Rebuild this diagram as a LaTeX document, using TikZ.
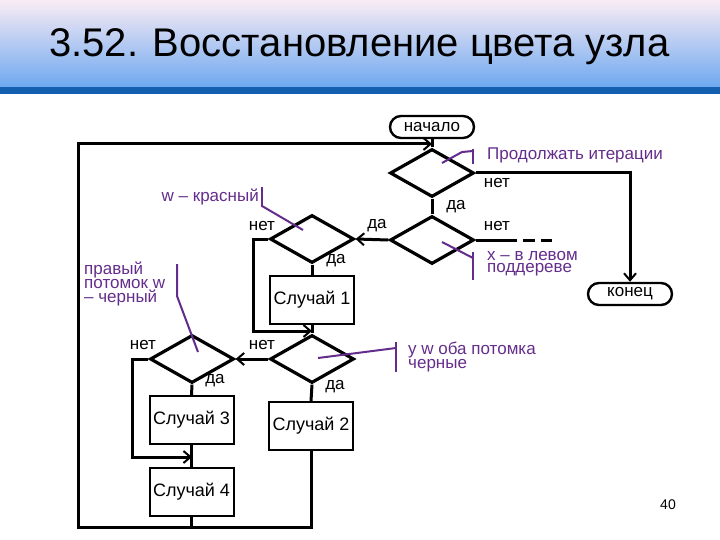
\documentclass[tikz,border=0pt]{standalone}
\usepackage{fontspec}
\setmainfont{Liberation Sans}
\usetikzlibrary{shapes.geometric,shapes.misc,arrows.meta}
\definecolor{ann}{RGB}{100,45,140}
\definecolor{hdtop}{RGB}{250,236,244}
\definecolor{hdbot}{RGB}{110,168,240}
\definecolor{band}{RGB}{20,95,175}
\begin{document}
\begin{tikzpicture}[x=1pt,y=-1pt,
  dec/.style={diamond,draw,line width=3.2pt,minimum width=84pt,minimum height=48pt,inner sep=0pt},
  blk/.style={rectangle,draw,line width=2pt,minimum width=84pt,minimum height=48pt,inner sep=0pt,font=\fontsize{18}{18}\selectfont},
  term/.style={rounded rectangle,draw,line width=2.4pt,minimum width=84pt,minimum height=22pt,inner sep=0pt,font=\fontsize{17}{17}\selectfont},
  flow/.style={line width=3pt},
  arr/.style={flow,-{Straight Barb[length=7pt,width=12pt,line width=2pt]}},
  lab/.style={font=\fontsize{17}{17}\selectfont,inner sep=0pt},
  note/.style={font=\fontsize{17}{12.5}\selectfont,inner sep=0pt,text=ann,align=left,anchor=north west},
  nl/.style={draw=ann,line width=2pt}]
\useasboundingbox (0,0) rectangle (720,540);
\shade[top color=hdtop,bottom color=hdbot] (0,0) rectangle (720,87);
\fill[band] (0,87) rectangle (720,94);
\node[font=\fontsize{40}{40}\selectfont,anchor=west,inner sep=0pt] (title) at (49,47) {3.52. Восстановление цвета узла};
\node[font=\fontsize{14}{14}\selectfont,inner sep=0pt] (pg) at (668,505) {40};

\node[term] (start) at (432,127) {начало};
\node[term] (end) at (630,294) {конец};
\node[dec] (d1) at (432,173) {};
\node[dec] (d2) at (432,240) {};
\node[dec] (d3) at (312,239) {};
\node[dec] (d4) at (312,359) {};
\node[dec] (d5) at (192,359) {};
\node[blk] (c1) at (312,299.5) {Случай 1};
\node[blk] (c2) at (311,426) {Случай 2};
\node[blk] (c3) at (191.5,420) {Случай 3};
\node[blk] (c4) at (191.5,492) {Случай 4};

\coordinate (lbl) at (78,527);
\coordinate (ltl) at (78,144);
\coordinate (lend) at (432,144);
\coordinate (k3) at (253,239);
\coordinate (k3e) at (312,331);
\coordinate (k5) at (132,359);
\coordinate (k5e) at (192,457);
\coordinate (dsh) at (505,240);
\coordinate (dshe) at (552,240);

\draw[flow] (start.south) -- (d1.north);
\draw[arr] (d1.east) -| (end.north);
\draw[flow] (d1.south) -- (d2.north);
\draw[arr] (d2.west) -- (d3.east);
\draw[flow] (d2.east) -- (dsh);
\draw[flow,dash pattern=on 12pt off 6pt] (dsh) -- (dshe);
\draw[flow] (d3.south) -- (c1.north);
\draw[arr] (d3.west) -- (k3) |- (k3e);
\draw[flow] (c1.south) -- (d4.north);
\draw[arr] (d4.west) -- (d5.east);
\draw[flow] (d4.south) -- (c2.north);
\draw[flow] (d5.south) -- (c3.north);
\draw[flow] (c3.south) -- (c4.north);
\draw[arr] (d5.west) -- (k5) |- (k5e);
\draw[flow] (c4.south) -- (c4.south |- lbl);
\draw[arr] (c2.south) |- (lbl) -- (ltl) -- (lend);

\node[lab] (n1) at (497,183) {нет};
\node[lab] (y1) at (456,207) {да};
\node[lab] (n2) at (497,226) {нет};
\node[lab] (y2) at (377,226) {да};
\node[lab] (n3) at (262,226) {нет};
\node[lab] (y3) at (336,261) {да};
\node[lab] (n4) at (262,345) {нет};
\node[lab] (y4) at (335,387) {да};
\node[lab] (n5) at (143,345) {нет};
\node[lab] (y5) at (215,381) {да};

\node[note] (a1) at (487,148) {Продолжать итерации};
\draw[nl] (473,149) -- (473,164);
\draw[nl] (442,163) -- (462,152) -- (473,151);
\node[note] (a2) at (487,251) {x – в левом\\поддереве};
\draw[nl] (473,252) -- (473,280);
\draw[nl] (442,242) -- (473,258);
\node[note,anchor=north east] (a3) at (259,189) {w – красный};
\draw[nl] (262,187) -- (262,207);
\draw[nl] (262,206) -- (303,230);
\node[note] (a4) at (84,262) {правый\\потомок w\\– черный};
\draw[nl] (177,264) -- (177,296) -- (198,352);
\node[note] (a5) at (408,342) {y w оба потомка\\черные};
\draw[nl] (396,342) -- (396,372);
\draw[nl] (396,348) -- (318,358);
\end{tikzpicture}
\end{document}
